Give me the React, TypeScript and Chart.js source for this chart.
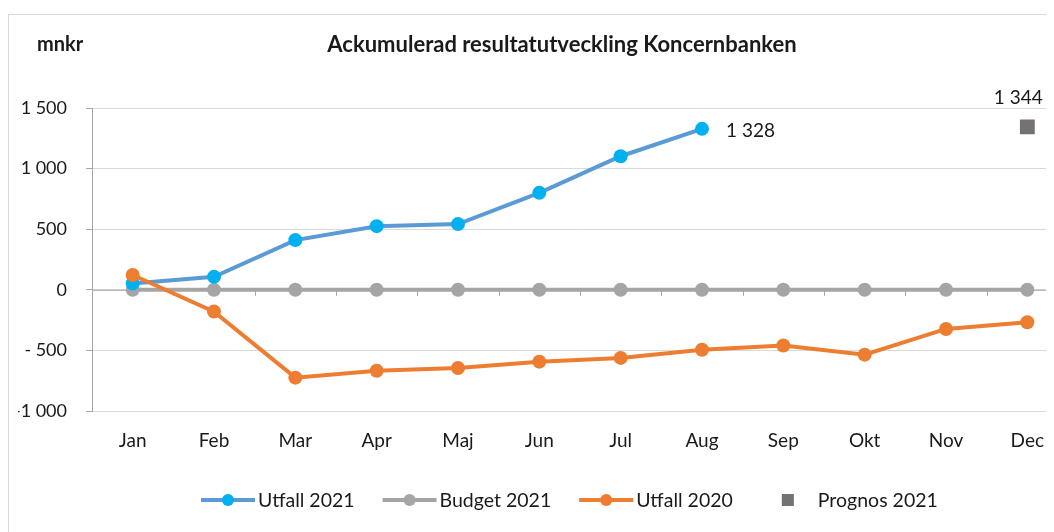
import React, { useEffect, useRef } from "react";
import { Chart, registerables } from "chart.js";

Chart.register(...registerables);

const months = ["Jan", "Feb", "Mar", "Apr", "Maj", "Jun", "Jul", "Aug", "Sep", "Okt", "Nov", "Dec"];
const utfall2021 = [52, 107, 410, 525, 542, 800, 1102, 1328, null, null, null, null];
const budget2021 = [0, 0, 0, 0, 0, 0, 0, 0, 0, 0, 0, 0];
const utfall2020 = [122, -180, -725, -668, -645, -593, -562, -495, -460, -535, -323, -268];
const prognos2021 = [null, null, null, null, null, null, null, null, null, null, null, 1344];
const yTickValues = [1500, 1000, 500, 0, -500, -1000];
const yTickLabels = ["1 500", "1 000", "500", "0", "- 500", "-1 000"];
const titleText = "Ackumulerad resultatutveckling Koncernbanken";
const unitText = "mnkr";

const FONT = "Lato, 'Open Sans', sans-serif";
const TEXT = "#1a1a1a";
const BLUE_LINE = "#5B9BD5";
const BLUE_PT = "#00B0F0";
const GRAY = "#A5A5A5";
const ORANGE = "#ED7D31";
const PROG = "#767171";

const fmt = (v: number) => {
  const s = Math.abs(Math.round(v)).toString().replace(/\B(?=(\d{3})+(?!\d))/g, " ");
  return (v < 0 ? "-" : "") + s;
};

const decorPlugin = {
  id: "decor",
  beforeDatasetsDraw(chart: any) {
    const { ctx, chartArea, scales } = chart;
    const x = scales.x;
    const y = scales.y;
    const y0 = y.getPixelForValue(0);
    ctx.save();
    ctx.strokeStyle = "#A6A6A6";
    ctx.lineWidth = 1;
    ctx.beginPath();
    ctx.moveTo(chartArea.left, y0 + 0.5);
    ctx.lineTo(chartArea.right, y0 + 0.5);
    for (let i = 0; i < months.length - 1; i++) {
      const bx = Math.round((x.getPixelForValue(i) + x.getPixelForValue(i + 1)) / 2) + 0.5;
      ctx.moveTo(bx, y0);
      ctx.lineTo(bx, y0 + 6);
    }
    ctx.stroke();
    ctx.restore();
  },
  afterDraw(chart: any) {
    const { ctx } = chart;
    ctx.save();
    // title
    ctx.fillStyle = TEXT;
    ctx.textBaseline = "middle";
    ctx.textAlign = "center";
    ctx.font = `bold 22px ${FONT}`;
    ctx.fillText(titleText, 553, 30);
    ctx.textAlign = "left";
    ctx.font = `bold 20px ${FONT}`;
    ctx.fillText(unitText, 28, 30);

    // data labels
    ctx.font = `19px ${FONT}`;
    const m0 = chart.getDatasetMeta(0);
    const lastIdx = 7;
    const p = m0.data[lastIdx];
    ctx.textAlign = "left";
    ctx.fillText(fmt(utfall2021[lastIdx] as number), p.x + 24, p.y + 2);
    const m3 = chart.getDatasetMeta(3);
    const q = m3.data[11];
    ctx.textAlign = "center";
    ctx.fillText(fmt(prognos2021[11] as number), q.x - 9, q.y - 29);

    // legend
    const items = [
      { label: "Utfall 2021", line: BLUE_LINE, pt: BLUE_PT, kind: "line" },
      { label: "Budget 2021", line: GRAY, pt: GRAY, kind: "line" },
      { label: "Utfall 2020", line: ORANGE, pt: ORANGE, kind: "line" },
      { label: "Prognos 2021", line: PROG, pt: PROG, kind: "rect" },
    ];
    let lx = 192;
    const ly = 485;
    ctx.textAlign = "left";
    ctx.font = `19.5px ${FONT}`;
    for (const it of items) {
      const cx = lx + 27;
      if (it.kind === "line") {
        ctx.strokeStyle = it.line;
        ctx.lineWidth = 4;
        ctx.beginPath();
        ctx.moveTo(lx, ly);
        ctx.lineTo(lx + 54, ly);
        ctx.stroke();
        ctx.fillStyle = it.pt;
        ctx.beginPath();
        ctx.arc(cx, ly, 6, 0, Math.PI * 2);
        ctx.fill();
      } else {
        ctx.fillStyle = it.pt;
        ctx.fillRect(cx - 6, ly - 6, 12, 12);
      }
      ctx.fillStyle = TEXT;
      ctx.fillText(it.label, lx + 57, ly + 1);
      lx += 57 + ctx.measureText(it.label).width + 28;
    }
    ctx.restore();
  },
};

export default function App() {
  const ref = useRef<HTMLCanvasElement>(null);
  useEffect(() => {
    if (!ref.current) return;
    const chart = new Chart(ref.current, {
      type: "line",
      data: {
        labels: months,
        datasets: [
          {
            label: "Utfall 2021",
            data: utfall2021,
            borderColor: BLUE_LINE,
            backgroundColor: BLUE_PT,
            pointBackgroundColor: BLUE_PT,
            pointBorderColor: BLUE_PT,
            borderWidth: 4,
            pointRadius: 7,
            pointBorderWidth: 0,
            tension: 0,
            order: 1,
          },
          {
            label: "Budget 2021",
            data: budget2021,
            borderColor: GRAY,
            backgroundColor: GRAY,
            pointBackgroundColor: GRAY,
            pointBorderColor: GRAY,
            borderWidth: 4,
            pointRadius: 7,
            pointBorderWidth: 0,
            tension: 0,
            order: 2,
          },
          {
            label: "Utfall 2020",
            data: utfall2020,
            borderColor: ORANGE,
            backgroundColor: ORANGE,
            pointBackgroundColor: ORANGE,
            pointBorderColor: ORANGE,
            borderWidth: 4,
            pointRadius: 7,
            pointBorderWidth: 0,
            tension: 0,
            order: 0,
          },
          {
            label: "Prognos 2021",
            data: prognos2021,
            showLine: false,
            borderColor: PROG,
            backgroundColor: PROG,
            pointBackgroundColor: PROG,
            pointBorderColor: PROG,
            pointStyle: "rect",
            pointRadius: 10.5,
            pointBorderWidth: 0,
            order: 3,
          },
        ],
      },
      options: {
        animation: false,
        responsive: false,
        events: [],
        layout: { padding: { left: 9, right: 11, top: 93, bottom: 84 } },
        plugins: {
          legend: { display: false },
          title: { display: false },
          tooltip: { enabled: false },
        },
        scales: {
          x: {
            type: "category",
            offset: true,
            grid: { display: false, drawTicks: false },
            border: { display: false },
            ticks: { color: TEXT, font: { family: FONT, size: 19 }, padding: 18, maxRotation: 0 },
            afterFit: (s: any) => {
              s.height = 40;
            },
          },
          y: {
            min: -1000,
            max: 1500,
            afterBuildTicks: (s: any) => {
              s.ticks = yTickValues.map((v) => ({ value: v }));
            },
            ticks: {
              color: TEXT,
              font: { family: FONT, size: 18 },
              padding: 19,
              callback: (v: any) => {
                const i = yTickValues.indexOf(Number(v));
                return i >= 0 ? yTickLabels[i] : "";
              },
            },
            grid: {
              color: "#D9D9D9",
              tickColor: "#A6A6A6",
              tickLength: 6,
              lineWidth: 1,
            },
            border: { color: "#A6A6A6", width: 1 },
            afterFit: (s: any) => {
              s.width = 74;
            },
          },
        },
      },
      plugins: [decorPlugin],
    } as any);
    return () => chart.destroy();
  }, []);

  return (
    <div style={{ width: 1046, height: 524, overflow: "hidden", position: "relative" }}>
      <div
        style={{
          position: "absolute",
          left: 0,
          top: 6,
          width: 1200,
          height: 600,
          borderLeft: "1px solid #D9D9D9",
          borderTop: "1px solid #D9D9D9",
        }}
      >
        <canvas ref={ref} width={1070} height={520} style={{ display: "block" }} />
      </div>
    </div>
  );
}
